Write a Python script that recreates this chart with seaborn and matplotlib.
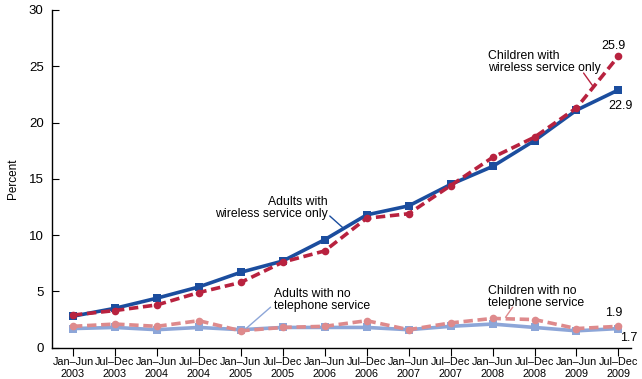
import matplotlib
matplotlib.use("Agg")
import matplotlib.pyplot as plt
import seaborn as sns
import pandas as pd
import numpy as np

periods = ["Jan–Jun\n2003", "Jul–Dec\n2003", "Jan–Jun\n2004", "Jul–Dec\n2004",
           "Jan–Jun\n2005", "Jul–Dec\n2005", "Jan–Jun\n2006", "Jul–Dec\n2006",
           "Jan–Jun\n2007", "Jul–Dec\n2007", "Jan–Jun\n2008", "Jul–Dec\n2008",
           "Jan–Jun\n2009", "Jul–Dec\n2009"]
adults_wireless = [2.8, 3.5, 4.4, 5.4, 6.7, 7.7, 9.6, 11.8, 12.6, 14.5, 16.1, 18.4, 21.1, 22.9]
children_wireless = [2.9, 3.3, 3.8, 4.9, 5.8, 7.6, 8.6, 11.5, 11.9, 14.4, 16.9, 18.7, 21.3, 25.9]
adults_nophone = [1.7, 1.8, 1.6, 1.8, 1.6, 1.8, 1.8, 1.8, 1.6, 1.9, 2.1, 1.8, 1.5, 1.7]
children_nophone = [1.9, 2.1, 1.9, 2.4, 1.5, 1.8, 1.9, 2.4, 1.6, 2.2, 2.6, 2.5, 1.7, 1.9]

sns.set_style("ticks", {"axes.edgecolor": "black", "text.color": "black",
                        "xtick.color": "black", "ytick.color": "black",
                        "axes.labelcolor": "black"})
plt.rcParams['font.family'] = ['Liberation Sans', 'DejaVu Sans']

fig = plt.figure(figsize=(6.42, 3.79), dpi=100)
ax = fig.add_axes([52/642, (379-347.7)/379, (631-52)/642, (347.7-10)/379])

x = np.arange(len(periods))
series = [
    (adults_nophone, "#8da6d8", "-", "s", 5.5),
    (children_nophone, "#de8a8c", (0, (2.6, 1.3)), "o", 5.5),
    (adults_wireless, "#1b4d9e", "-", "s", 5.5),
    (children_wireless, "#b8223f", (0, (2.6, 1.3)), "o", 5.5),
]
for vals, col, ls, mk, ms in series:
    df = pd.DataFrame({"x": x, "y": vals})
    sns.lineplot(data=df, x="x", y="y", ax=ax, color=col, linewidth=2.6,
                 linestyle=ls, marker=mk, markersize=ms, markeredgewidth=0,
                 markeredgecolor=col)

ax.set_xlim(-0.5, 13.3)
ax.set_ylim(0, 30)
ax.set_yticks([0, 5, 10, 15, 20, 25, 30])
ax.set_xticks(x)
ax.set_xticklabels(periods, fontsize=7.8, linespacing=1.25)
ax.tick_params(axis='y', direction='in', length=5, width=0.8, labelsize=9.5, pad=6)
ax.tick_params(axis='x', direction='out', length=6, width=0.8, pad=1)
ax.set_xlabel("")
ax.set_ylabel("Percent", fontsize=8.5, labelpad=7)
sns.despine(ax=ax)
ax.spines['left'].set_linewidth(1)
ax.spines['bottom'].set_linewidth(1)

fs = 8.8
lk = dict(arrowstyle='-', lw=1, shrinkA=0, shrinkB=0)
# Children wireless label
ax.text(9.9, 25.4, "Children with\nwireless service only", fontsize=fs, ha='left', va='center', linespacing=1.0)
ax.annotate("", xy=(12.4, 23.2), xytext=(12.17, 24.4), arrowprops=dict(color='#b8223f', **lk))
# Adults wireless label
ax.text(6.07, 12.4, "Adults with\nwireless service only", fontsize=fs, ha='right', va='center', linespacing=1.0)
ax.annotate("", xy=(6.45, 10.6), xytext=(6.12, 11.7), arrowprops=dict(color='#1b4d9e', **lk))
# Adults no phone label
ax.text(4.78, 4.23, "Adults with no\ntelephone service", fontsize=fs, ha='left', va='center', linespacing=1.0)
ax.annotate("", xy=(4.14, 1.75), xytext=(4.71, 3.6), arrowprops=dict(color='#8da6d8', **lk))
# Children no phone label
ax.text(9.9, 4.5, "Children with no\ntelephone service", fontsize=fs, ha='left', va='center', linespacing=1.0)
ax.annotate("", xy=(10.31, 2.7), xytext=(10.48, 3.6), arrowprops=dict(color='#de8a8c', **lk))

ax.text(12.88, 26.8, "25.9", fontsize=9, ha='center', va='center')
ax.text(13.05, 21.5, "22.9", fontsize=9, ha='center', va='center')
ax.text(12.88, 3.09, "1.9", fontsize=9, ha='center', va='center')
ax.text(13.24, 0.86, "1.7", fontsize=9, ha='center', va='center')

fig.savefig("out.png", dpi=100)
